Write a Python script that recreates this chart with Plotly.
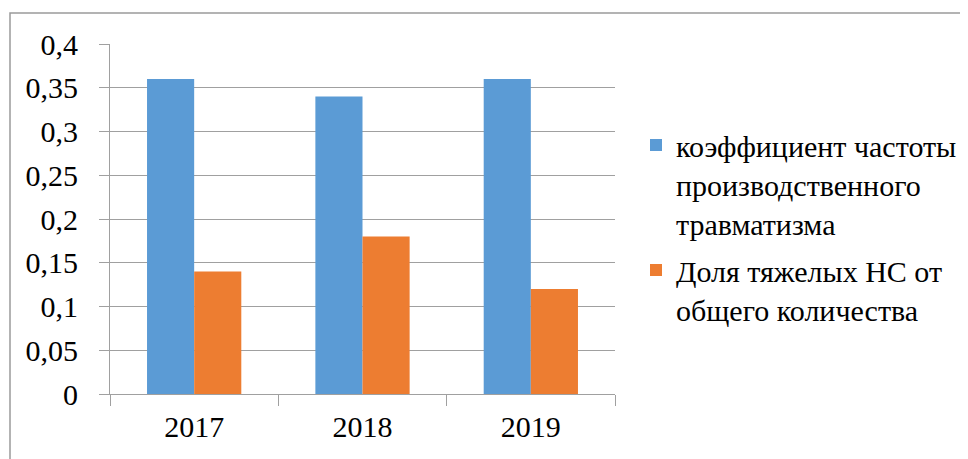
import plotly.graph_objects as go

years = ["2017", "2018", "2019"]
freq_coef = [0.36, 0.34, 0.36]
severe_share = [0.14, 0.18, 0.12]
series_names = ["коэффициент частоты<br>производственного<br>травматизма",
                "Доля тяжелых НС от<br>общего количества"]
y_ticks = [0, 0.05, 0.1, 0.15, 0.2, 0.25, 0.3, 0.35, 0.4]

OFF = 8  # page body margin
W, H = 968 - OFF, 459 - OFF
# plot area in reference (screen) pixels
PX0, PX1, PY0, PY1 = 110, 615, 44, 394
L, R, T, B = PX0 - OFF, W - (PX1 - OFF), PY0 - OFF, H - (PY1 - OFF)
pw, ph = PX1 - PX0, PY1 - PY0

SERIF = "Liberation Serif, Times New Roman, DejaVu Serif, serif"

fig = go.Figure()
fig.add_trace(go.Bar(x=years, y=freq_coef, name=series_names[0], legendgroup="a",
                     marker=dict(color="#5B9BD5", line=dict(width=0))))
fig.add_trace(go.Bar(x=years, y=severe_share, name=series_names[1], legendgroup="b",
                     marker=dict(color="#ED7D31", line=dict(width=0))))

fx = lambda px: (px - PX0) / pw
fy = lambda py: (PY1 - py) / ph
cx = lambda px: (px - OFF) / W
cy = lambda py: 1 - (py - OFF) / H

fig.update_layout(
    width=W, height=H,
    margin=dict(l=L, r=R, t=T, b=B, pad=0, autoexpand=False),
    paper_bgcolor="white", plot_bgcolor="white",
    separators=", ",
    barmode="group", bargap=0.44, bargroupgap=0,
    font=dict(family=SERIF, size=30, color="black"),
    xaxis=dict(type="category", showgrid=False, showline=True, linecolor="#a0a0a0", linewidth=1,
               ticks="outside", tickson="boundaries", ticklen=11, tickcolor="#a0a0a0",
               tickfont=dict(family=SERIF, size=30), ticklabelstandoff=6),
    yaxis=dict(range=[0, 0.4], tickvals=y_ticks, showgrid=True, gridcolor="#a0a0a0", gridwidth=1,
               showline=True, linecolor="#a0a0a0", linewidth=1, zeroline=False,
               ticks="outside", ticklen=10, tickcolor="#a0a0a0",
               tickfont=dict(family=SERIF, size=30), ticklabelstandoff=15),
    legend=dict(xref="container", yref="container", x=cx(636), y=cy(119),
                xanchor="left", yanchor="top",
                font=dict(family=SERIF, size=30), valign="top", bgcolor="rgba(0,0,0,0)",
                tracegroupgap=5),
    showlegend=True,
    shapes=[dict(type="rect", xref="paper", yref="paper",
                 x0=fx(10), x1=fx(1000), y0=fy(500), y1=fy(13),
                 line=dict(color="#9a9a9a", width=1.5), layer="above")],
)

fig.write_html("out.html")
